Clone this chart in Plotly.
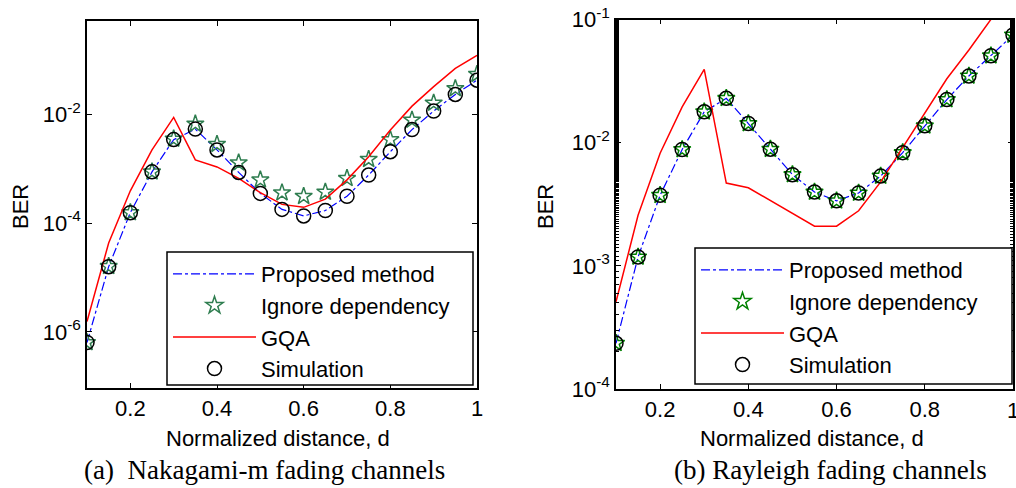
import plotly.graph_objects as go

d = [0.10, 0.15, 0.20, 0.25, 0.30, 0.35, 0.40, 0.45, 0.50, 0.55,
     0.60, 0.65, 0.70, 0.75, 0.80, 0.85, 0.90, 0.95, 1.00]

# (a) Nakagami-m
naka_sim = [6.4e-7, 1.58e-5, 1.55e-4, 8.7e-4, 3.4e-3, 5.3e-3, 2.2e-3, 8.5e-4, 3.5e-4, 1.78e-4,
            1.35e-4, 1.7e-4, 3.1e-4, 7.6e-4, 2.04e-3, 5.2e-3, 1.14e-2, 2.3e-2, 4.2e-2]
naka_prop = [6.4e-7, 1.58e-5, 1.55e-4, 8.7e-4, 3.4e-3, 5.3e-3, 2.2e-3, 8.5e-4, 3.5e-4, 1.78e-4,
             1.35e-4, 1.7e-4, 3.1e-4, 7.6e-4, 2.04e-3, 5.2e-3, 1.14e-2, 2.3e-2, 4.2e-2]
naka_ign = [6.4e-7, 1.6e-5, 1.55e-4, 8.7e-4, 3.5e-3, 6.6e-3, 2.8e-3, 1.28e-3, 6.2e-4, 3.6e-4,
            3.1e-4, 3.7e-4, 6.6e-4, 1.48e-3, 3.4e-3, 7.8e-3, 1.6e-2, 2.95e-2, 5.4e-2]
naka_gqa = [1.55e-6, 4.3e-5, 3.9e-4, 2.2e-3, 8.7e-3, 1.44e-3, 1.07e-3, 6.6e-4, 3.6e-4, 2.2e-4,
            1.94e-4, 2.75e-4, 6.2e-4, 1.65e-3, 5.1e-3, 1.4e-2, 3.2e-2, 6.9e-2, 0.12]

# (b) Rayleigh
ray_sim = [2.35e-4, 1.18e-3, 3.74e-3, 8.8e-3, 1.78e-2, 2.29e-2, 1.43e-2, 8.85e-3, 5.5e-3, 3.97e-3,
           3.37e-3, 3.9e-3, 5.35e-3, 8.3e-3, 1.37e-2, 2.24e-2, 3.48e-2, 5.08e-2, 7.48e-2]
ray_prop = [2.35e-4, 1.18e-3, 3.74e-3, 8.8e-3, 1.78e-2, 2.29e-2, 1.43e-2, 8.85e-3, 5.5e-3, 3.97e-3,
            3.37e-3, 3.9e-3, 5.35e-3, 8.3e-3, 1.37e-2, 2.24e-2, 3.48e-2, 5.08e-2, 7.48e-2]
ray_ign = [2.35e-4, 1.18e-3, 3.74e-3, 8.8e-3, 1.78e-2, 2.29e-2, 1.43e-2, 8.85e-3, 5.5e-3, 3.97e-3,
           3.37e-3, 3.9e-3, 5.35e-3, 8.3e-3, 1.37e-2, 2.24e-2, 3.48e-2, 5.08e-2, 7.48e-2]
ray_gqa = [5.1e-4, 2.57e-3, 8.2e-3, 1.95e-2, 3.94e-2, 4.7e-3, 4.3e-3, 3.4e-3, 2.65e-3, 2.1e-3,
           2.1e-3, 2.8e-3, 4.8e-3, 9.2e-3, 1.72e-2, 3.3e-2, 5.65e-2, 0.1, 0.178]

x_ticks = [0.2, 0.4, 0.6, 0.8, 1.0]
x_ticktext = ["0.2", "0.4", "0.6", "0.8", "1"]
ya_vals = [1e-2, 1e-4, 1e-6]
ya_text = ["10<sup>-2</sup>", "10<sup>-4</sup>", "10<sup>-6</sup>"]
yb_vals = [1e-1, 1e-2, 1e-3, 1e-4]
yb_text = ["10<sup>-1</sup>", "10<sup>-2</sup>", "10<sup>-3</sup>", "10<sup>-4</sup>"]

names = ["Proposed method", "Ignore dependency", "GQA", "Simulation"]

W, H = 1016, 488
FONT = "Liberation Sans, Arial, sans-serif"
FS = 22

fig = go.Figure()

def add_set(prop, ign, gqa, sim, xa, ya, leg, star_color):
    fig.add_trace(go.Scatter(x=d, y=prop, mode="lines", name=names[0], xaxis=xa, yaxis=ya, legend=leg,
                             legendgroup=leg + "p",
                             line=dict(color="#0000ff", width=1.2, dash="dashdot")))
    fig.add_trace(go.Scatter(x=d, y=ign, mode="markers", name=names[1], xaxis=xa, yaxis=ya, legend=leg,
                             legendgroup=leg + "i",
                             marker=dict(symbol="star-open", size=13, color=star_color,
                                         line=dict(color=star_color, width=1.5))))
    fig.add_trace(go.Scatter(x=d, y=gqa, mode="lines", name=names[2], xaxis=xa, yaxis=ya, legend=leg,
                             legendgroup=leg + "g",
                             line=dict(color="#ff0000", width=1.5)))
    fig.add_trace(go.Scatter(x=d, y=sim, mode="markers", name=names[3], xaxis=xa, yaxis=ya, legend=leg,
                             legendgroup=leg + "s",
                             marker=dict(symbol="circle-open", size=14, color="black",
                                         line=dict(color="black", width=1.5))))

add_set(naka_prop, naka_ign, naka_gqa, naka_sim, "x", "y", "legend", "#2e7d4f")
add_set(ray_prop, ray_ign, ray_gqa, ray_sim, "x2", "y2", "legend2", "#008000")

axis_common = dict(showline=True, linecolor="black", linewidth=1.5, mirror="ticks",
                   ticks="inside", ticklen=5, tickcolor="black", showgrid=False, zeroline=False,
                   tickfont=dict(family=FONT, size=FS, color="black"), automargin=False)

def px_x(a, b):
    return [a / W, b / W]

def px_y(top, bottom):
    return [1 - bottom / H, 1 - top / H]

leg_common = dict(xref="paper", yref="paper", xanchor="left", yanchor="top",
                  bgcolor="rgba(0,0,0,0)", borderwidth=0,
                  font=dict(family=FONT, size=FS, color="black"),
                  itemwidth=83, traceorder="grouped", tracegroupgap=0)

fig.update_layout(
    width=W, height=H,
    margin=dict(l=0, r=0, t=0, b=0, autoexpand=False),
    paper_bgcolor="white", plot_bgcolor="white",
    font=dict(family=FONT, size=FS, color="black"),
    xaxis=dict(domain=px_x(87, 477), range=[0.1, 1.0], tickvals=x_ticks, ticktext=x_ticktext,
               anchor="y", **axis_common),
    yaxis=dict(domain=px_y(21, 388), type="log", range=[-7.03, -0.29], tickvals=ya_vals,
               ticktext=ya_text, anchor="x", **axis_common),
    xaxis2=dict(domain=px_x(616, 1013), range=[0.1, 1.0], tickvals=x_ticks, ticktext=x_ticktext,
                anchor="y2", **axis_common),
    yaxis2=dict(domain=px_y(19.5, 389), type="log", range=[-4, -1], tickvals=yb_vals,
                ticktext=yb_text, anchor="x2",
                minor=dict(ticks="inside", ticklen=3, tickcolor="black", showgrid=False),
                **axis_common),
    legend=dict(x=168 / W, y=1 - 253 / H, **leg_common),
    legend2=dict(x=696 / W, y=1 - 249 / H, **leg_common),
    showlegend=True,
)

# legend frames
for (x0, x1, y0, y1) in [(167, 473, 252, 385), (695, 1012, 248, 384)]:
    fig.add_shape(type="rect", xref="paper", yref="paper", layer="above",
                  x0=x0 / W, x1=x1 / W, y0=1 - y1 / H, y1=1 - y0 / H,
                  fillcolor="white", line=dict(color="black", width=1.5))

ann = [
    dict(text="BER", x=20, y=207, textangle=-90),
    dict(text="BER", x=545, y=207, textangle=-90),
    dict(text="Normalized distance, d", x=278, y=438, textangle=0),
    dict(text="Normalized distance, d", x=812, y=438, textangle=0),
    dict(text="1", x=1013, y=410, textangle=0),
]
for a in ann:
    fig.add_annotation(text=a["text"], x=a["x"] / W, y=1 - a["y"] / H, xref="paper", yref="paper",
                       showarrow=False, textangle=a["textangle"], xanchor="center", yanchor="middle",
                       font=dict(family=FONT, size=FS, color="black"))

caps = [("(a)  Nakagami-m fading channels", 264), ("(b) Rayleigh fading channels", 830)]
for t, cx in caps:
    fig.add_annotation(text=t, x=cx / W, y=1 - 470 / H, xref="paper", yref="paper",
                       showarrow=False, xanchor="center", yanchor="middle",
                       font=dict(family="Liberation Serif, Times New Roman, serif", size=27, color="black"))

fig.write_html("out.html")
